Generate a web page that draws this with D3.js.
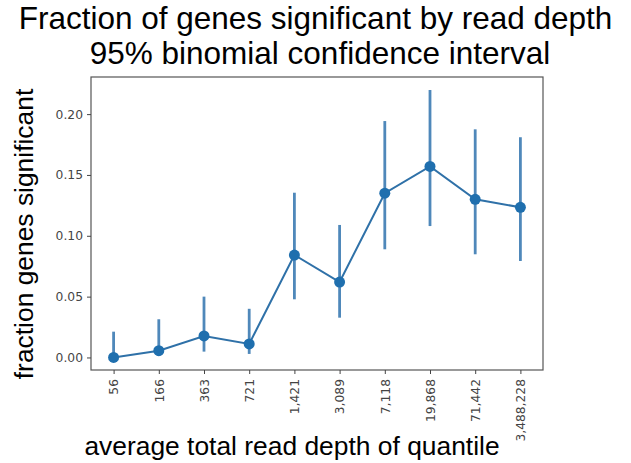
<!DOCTYPE html>
<html>
<head>
<meta charset="utf-8">
<script src="https://cdn.jsdelivr.net/npm/d3@7"></script>
<style>
  body { margin: 0; background: #fff; }
  svg { display: block; }
</style>
</head>
<body>
<div id="chart"></div>
<script>
// quantile labels (average total read depth)
const depthLabels = ["56", "166", "363", "721", "1,421", "3,089", "7,118", "19,868", "71,442", "3,488,228"]
// fraction of genes significant, with 95% binomial CI
const fraction = [0.000, 0.0056, 0.0177, 0.0111, 0.0842, 0.062, 0.135, 0.157, 0.130, 0.1234]
const ciLow = [0.000, 0.0012, 0.0048, 0.0029, 0.0478, 0.0327, 0.0889, 0.108, 0.0848, 0.0793]
const ciHigh = [0.0212, 0.0314, 0.050, 0.040, 0.1354, 0.1089, 0.1943, 0.2198, 0.1875, 0.181]
const yTicks = [0, 0.05, 0.10, 0.15, 0.20]

const width = 631
const height = 463
const margin = {top: 77, right: 88, bottom: 93, left: 91}
const innerWidth = width - margin.left - margin.right
const innerHeight = height - margin.top - margin.bottom
const lineColor = "#2f71a8"
const barColor = "#4f88ba"
const dotColor = "#1f6fae"

const data = depthLabels.map((d, i) => ({label: d, value: fraction[i], lo: ciLow[i], hi: ciHigh[i]}))

const svg = d3.select('#chart').append("svg")
  .attr("width", width)
  .attr("height", height)

// title
svg.append("text")
  .attr("x", 315.5).attr("y", 29)
  .attr("text-anchor", "middle")
  .style("font-family", "Liberation Sans, Arial, sans-serif")
  .style("font-size", "31.5px")
  .text("Fraction of genes significant by read depth")
svg.append("text")
  .attr("x", 320).attr("y", 64)
  .attr("text-anchor", "middle")
  .style("font-family", "Liberation Sans, Arial, sans-serif")
  .style("font-size", "31.5px")
  .text("95% binomial confidence interval")

const g = svg.append("g")
  .attr("transform", "translate(" + margin.left + "," + margin.top + ")")

const xScale = d3.scalePoint()
  .domain(depthLabels)
  .range([0, innerWidth])
  .padding(0.5)

const yScale = d3.scaleLinear()
  .domain([-0.0103, 0.2305])
  .range([innerHeight, 0])

// frame
g.append("rect")
  .attr("width", innerWidth).attr("height", innerHeight)
  .attr("fill", "none").attr("stroke", "#555").attr("stroke-width", 1.2)

// y axis
const yAxis = g.append("g")
  .call(d3.axisLeft(yScale).tickValues(yTicks).tickFormat(d3.format(".2f")).tickSize(4).tickPadding(4))
yAxis.select(".domain").remove()
yAxis.selectAll("line").attr("stroke", "#444")
yAxis.selectAll("text")
  .style("font-family", "DejaVu Sans, sans-serif")
  .style("font-size", "12.3px")
  .attr("fill", "#444")

// x axis
const xAxis = g.append("g")
  .attr("transform", "translate(0," + innerHeight + ")")
  .call(d3.axisBottom(xScale).tickSize(4))
xAxis.select(".domain").remove()
xAxis.selectAll("line").attr("stroke", "#444")
xAxis.selectAll("text")
  .attr("transform", "rotate(-90)")
  .attr("x", -9).attr("y", 0).attr("dy", "0.35em")
  .attr("text-anchor", "end")
  .style("font-family", "DejaVu Sans, sans-serif")
  .style("font-size", "12.3px")
  .attr("fill", "#444")

// error bars
g.selectAll(".ci")
  .data(data)
  .enter().append("line")
  .attr("class", "ci")
  .attr("x1", d => xScale(d.label)).attr("x2", d => xScale(d.label))
  .attr("y1", d => yScale(d.lo)).attr("y2", d => yScale(d.hi))
  .attr("stroke", barColor)
  .attr("stroke-width", 2.8)

// line
g.append("path")
  .datum(data)
  .attr("fill", "none")
  .attr("stroke", lineColor)
  .attr("stroke-width", 2)
  .attr("d", d3.line().x(d => xScale(d.label)).y(d => yScale(d.value)))

// points
g.selectAll(".dot")
  .data(data)
  .enter().append("circle")
  .attr("class", "dot")
  .attr("cx", d => xScale(d.label))
  .attr("cy", d => yScale(d.value))
  .attr("r", 5.5)
  .attr("fill", dotColor)

// axis labels
svg.append("text")
  .attr("transform", "translate(33," + 234 + ") rotate(-90)")
  .attr("text-anchor", "middle")
  .style("font-family", "Liberation Sans, Arial, sans-serif")
  .style("font-size", "26.4px")
  .text("fraction genes significant")

svg.append("text")
  .attr("x", 292).attr("y", 455)
  .attr("text-anchor", "middle")
  .style("font-family", "Liberation Sans, Arial, sans-serif")
  .style("font-size", "26.4px")
  .text("average total read depth of quantile")
</script>
</body>
</html>
